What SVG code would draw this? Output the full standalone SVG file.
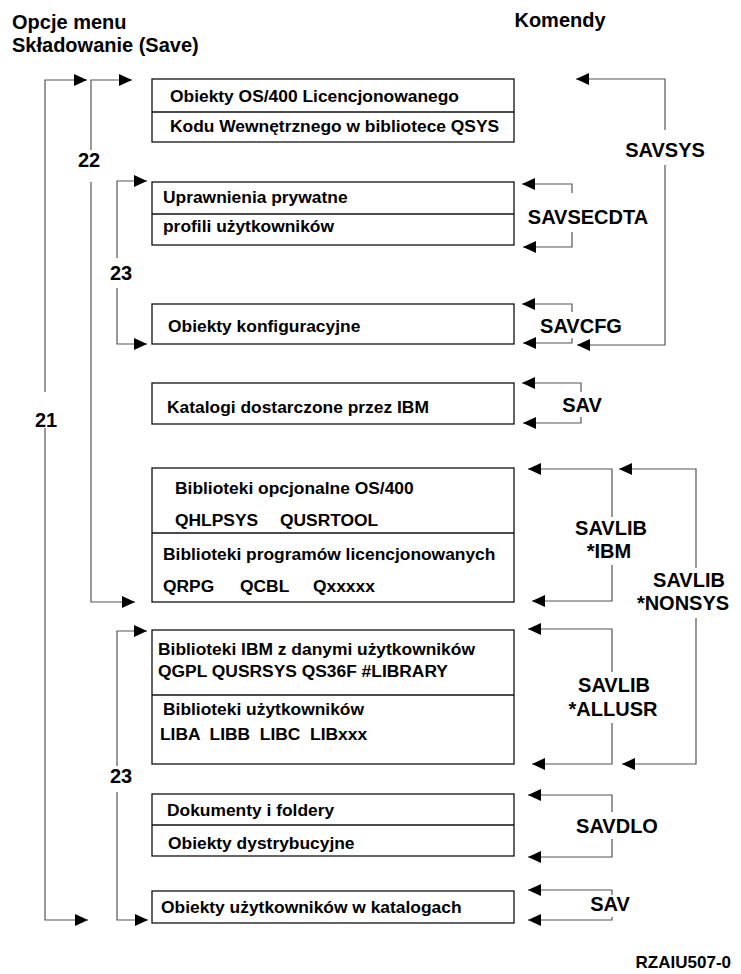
<svg xmlns="http://www.w3.org/2000/svg" width="741" height="974" viewBox="0 0 741 974">
<defs>
<marker id="ah" markerUnits="userSpaceOnUse" markerWidth="14" markerHeight="13" refX="13" refY="6" orient="auto-start-reverse" overflow="visible">
<path d="M0,0 L13,6 L0,12 z" fill="#000"/>
</marker>
</defs>
<style>
text{font-family:"Liberation Sans",Arial,sans-serif;font-weight:bold;fill:#000}
.t{font-size:20px}
.b{font-size:17.4px}
.l{font-size:20px;text-anchor:middle}
.f{font-size:17px;text-anchor:end}
.box{fill:#fff;stroke:#111;stroke-width:1.3}
.div{stroke:#111;stroke-width:1.3}
.c{fill:none;stroke:#555;stroke-width:1.2;marker-start:url(#ah);marker-end:url(#ah)}
</style>
<rect width="741" height="974" fill="#fff"/>
<g id="headers">
<text class="t" x="12" y="29">Opcje menu</text>
<text class="t" x="12" y="52">Składowanie (Save)</text>
<text class="t" x="560" y="27" text-anchor="middle">Komendy</text>
<text class="f" x="731" y="968">RZAIU507-0</text>
</g>
<g id="box1">
<rect class="box" x="152" y="79" width="362" height="63"/>
<line class="div" x1="152" y1="112" x2="514" y2="112"/>
<text class="b" x="170" y="102">Obiekty OS/400 Licencjonowanego</text>
<text class="b" x="170" y="132">Kodu Wewnętrznego w bibliotece QSYS</text>
</g>
<g id="box2">
<rect class="box" x="152" y="182" width="362" height="63"/>
<line class="div" x1="152" y1="214" x2="514" y2="214"/>
<text class="b" x="163" y="203">Uprawnienia prywatne</text>
<text class="b" x="163" y="232">profili użytkowników</text>
</g>
<g id="box3">
<rect class="box" x="152" y="304" width="362" height="40"/>
<text class="b" x="168" y="332">Obiekty konfiguracyjne</text>
</g>
<g id="box4">
<rect class="box" x="152" y="383" width="362" height="41"/>
<text class="b" x="167" y="413">Katalogi dostarczone przez IBM</text>
</g>
<g id="box5">
<rect class="box" x="152" y="468" width="362" height="134"/>
<line class="div" x1="152" y1="533" x2="514" y2="533"/>
<text class="b" x="175" y="494">Biblioteki opcjonalne OS/400</text>
<text class="b" x="175" y="526">QHLPSYS</text>
<text class="b" x="280" y="526">QUSRTOOL</text>
<text class="b" x="163" y="560">Biblioteki programów licencjonowanych</text>
<text class="b" x="163" y="592">QRPG</text>
<text class="b" x="240" y="592">QCBL</text>
<text class="b" x="313" y="592">Qxxxxx</text>
</g>
<g id="box6">
<rect class="box" x="152" y="630" width="362" height="134"/>
<line class="div" x1="152" y1="695" x2="514" y2="695"/>
<text class="b" x="158" y="655">Biblioteki IBM z danymi użytkowników</text>
<text class="b" x="158" y="677">QGPL QUSRSYS QS36F #LIBRARY</text>
<text class="b" x="163" y="715">Biblioteki użytkowników</text>
<text class="b" x="160" y="740" xml:space="preserve">LIBA  LIBB  LIBC  LIBxxx</text>
</g>
<g id="box7">
<rect class="box" x="152" y="794" width="362" height="62"/>
<line class="div" x1="152" y1="825" x2="514" y2="825"/>
<text class="b" x="167" y="816">Dokumenty i foldery</text>
<text class="b" x="168" y="849">Obiekty dystrybucyjne</text>
</g>
<g id="box8">
<rect class="box" x="152" y="891" width="362" height="32"/>
<text class="b" x="161" y="913">Obiekty użytkowników w katalogach</text>
</g>
<g id="connectors">
<path class="c" d="M87,80 L45,80 L45,392 M45,428 L45,920 L88,920"/>
<path class="c" d="M132,80 L91,80 L91,150 M91,182 L91,602 L135,602"/>
<path class="c" d="M147,181 L117,181 L117,258 M117,288 L117,344 L147,344"/>
<path class="c" d="M147,631 L117,631 L117,766 M117,792 L117,920 L148,920"/>
<path class="c" d="M576,79 L665,79 L665,130 M665,165 L665,345 L577,345"/>
<path class="c" d="M522,184 L572,184 L572,193 M572,232 L572,247 L523,247"/>
<path class="c" d="M522,304 L572,304 L572,312 M572,338 L572,343 L523,343"/>
<path class="c" d="M522,383 L581,383 L581,392 M581,417 L581,423 L523,423"/>
<path class="c" d="M528,469 L612,469 L612,517 M612,565 L612,601 L532,601"/>
<path class="c" d="M619,469 L696,469 L696,568 M696,618 L696,764 L622,764"/>
<path class="c" d="M528,629 L612,629 L612,672 M612,723 L612,764 L532,764"/>
<path class="c" d="M528,795 L612,795 L612,812 M612,839 L612,857 L528,857"/>
<path class="c" d="M528,890 L612,890 L612,895 M612,917 L612,920 L528,920"/>
</g>
<g id="labels">
<text class="l" x="89" y="167">22</text>
<text class="l" x="121" y="280">23</text>
<text class="l" x="46" y="427">21</text>
<text class="l" x="121" y="783">23</text>
<text class="l" x="665" y="157">SAVSYS</text>
<text class="l" x="588" y="224">SAVSECDTA</text>
<text class="l" x="581" y="333">SAVCFG</text>
<text class="l" x="582" y="412">SAV</text>
<text class="l" x="611" y="535">SAVLIB</text>
<text class="l" x="609" y="558">*IBM</text>
<text class="l" x="689" y="587">SAVLIB</text>
<text class="l" x="683" y="610">*NONSYS</text>
<text class="l" x="614" y="692">SAVLIB</text>
<text class="l" x="613" y="716">*ALLUSR</text>
<text class="l" x="617" y="833">SAVDLO</text>
<text class="l" x="610" y="911">SAV</text>
</g>
</svg>
